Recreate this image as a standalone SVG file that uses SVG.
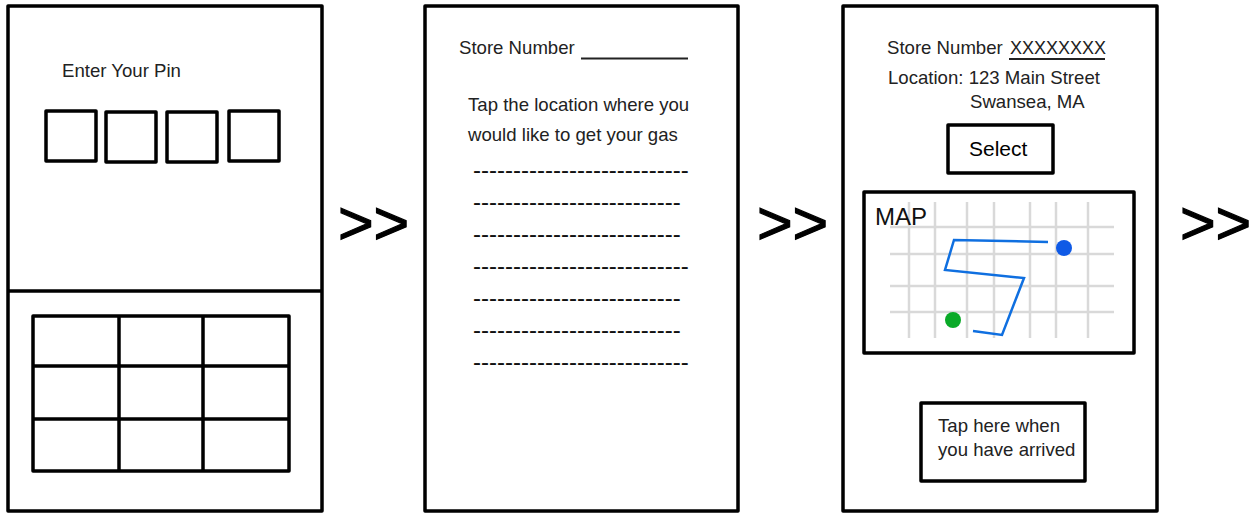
<svg xmlns="http://www.w3.org/2000/svg" width="1255" height="514" viewBox="0 0 1255 514">
<style>
.b{fill:none;stroke:#000;stroke-width:3.5;stroke-linejoin:round}
.t{font-family:"Liberation Sans",Arial,sans-serif;font-size:18.6px;fill:#222}
.d{font-family:"Liberation Sans",Arial,sans-serif;font-size:24px;fill:#111}
.a{font-family:"Liberation Sans",Arial,sans-serif;font-size:61px;fill:#000;stroke:#000;stroke-width:1.2}
.g{stroke:#d9d9d9;stroke-width:2.5;fill:none}
.r{stroke:#0f6fe0;stroke-width:2.5;fill:none}
</style>
<rect width="1255" height="514" fill="#fff"/>
<g id="screen-pin">
<rect class="b" x="8" y="6" width="314" height="505"/>
<path class="b" d="M8 291H322"/>
<text class="t" x="62" y="77">Enter Your Pin</text>
<rect class="b" x="46" y="111" width="50" height="50"/>
<rect class="b" x="106" y="112" width="50" height="50"/>
<rect class="b" x="167" y="112" width="50" height="50"/>
<rect class="b" x="229" y="111" width="50" height="50"/>
<rect class="b" x="33" y="316" width="256" height="155"/>
<path class="b" d="M33 366H289M33 419H289M119 316V471M203 316V471"/>
</g>
<g id="screen-store">
<rect class="b" x="425" y="6" width="313" height="505"/>
<text class="t" x="459" y="54">Store Number</text>
<path d="M581 58.500H688" stroke="#222" stroke-width="2" fill="none"/>
<text class="t" x="468" y="111">Tap the location where you</text>
<text class="t" x="468" y="141">would like to get your gas</text>
<g class="d">
<text x="473" y="178">---------------------------</text>
<text x="473" y="210">--------------------------</text>
<text x="473" y="242">--------------------------</text>
<text x="473" y="274">---------------------------</text>
<text x="473" y="306">--------------------------</text>
<text x="473" y="338">--------------------------</text>
<text x="473" y="370">---------------------------</text>
</g>
</g>
<g id="screen-map">
<rect class="b" x="843" y="6" width="314" height="505"/>
<text class="t" x="887" y="54">Store Number</text>
<text class="t" x="1010" y="54" style="font-size:18px">XXXXXXXX</text>
<path d="M1009 59H1105" stroke="#222" stroke-width="2" fill="none"/>
<text class="t" x="888" y="84">Location: 123 Main Street</text>
<text class="t" x="970" y="108">Swansea, MA</text>
<rect class="b" x="948" y="125" width="105" height="48"/>
<text class="t" x="969" y="156" style="font-size:21px;fill:#000">Select</text>
<path class="g" d="M909 202V338M935 202V338M967 202V338M994 202V338M1030 202V338M1056 202V338M1088 202V338M890 227H1114M890 254H1114M890 286H1114M890 312H1114"/>
<rect class="b" x="864" y="192" width="270" height="161"/>
<text class="t" x="875" y="225" style="font-size:24px;fill:#111">MAP</text>
<path class="r" d="M1048 242L954 240L945 270L1024 278L1002 335L973 331"/>
<circle cx="1064" cy="248" r="8" fill="#0f5ae6"/>
<circle cx="953" cy="320" r="8" fill="#0aaa28"/>
<rect class="b" x="921" y="403" width="164" height="78"/>
<text class="t" x="938" y="432">Tap here when</text>
<text class="t" x="938" y="456">you have arrived</text>
</g>
<g id="connectors">
<text class="a" x="338" y="244">&gt;&gt;</text>
<text class="a" x="757" y="244">&gt;&gt;</text>
<text class="a" x="1180" y="244">&gt;&gt;</text>
</g>
</svg>
